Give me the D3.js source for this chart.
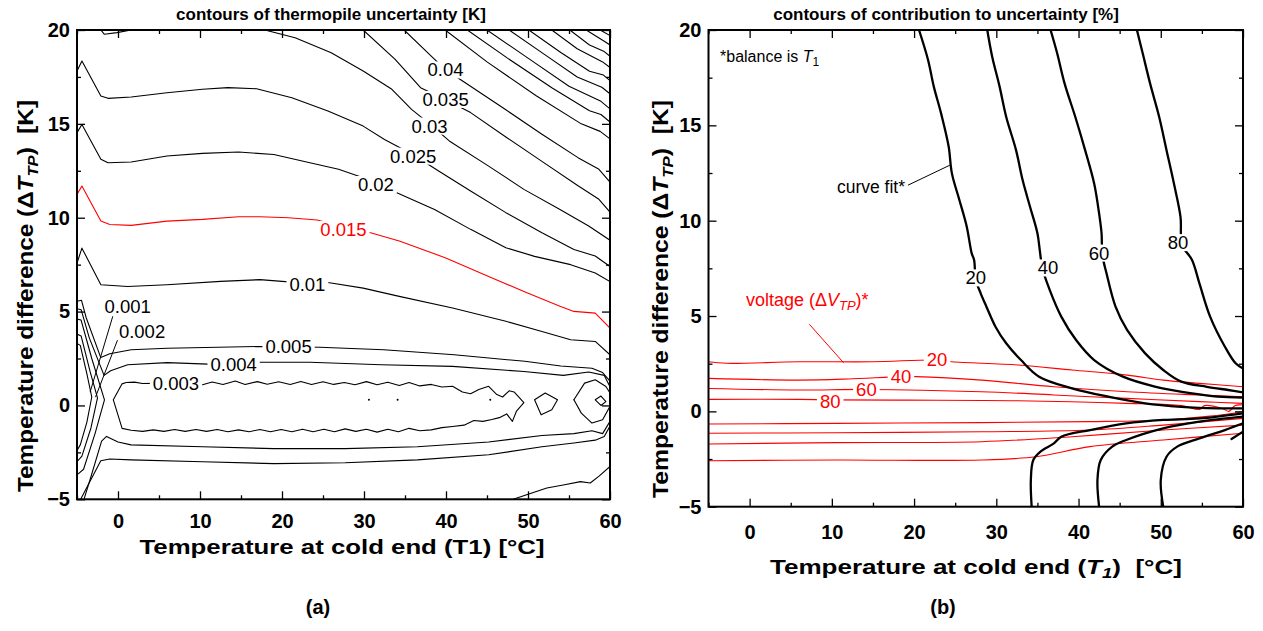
<!DOCTYPE html>
<html><head><meta charset="utf-8">
<script src="https://cdn.jsdelivr.net/npm/d3@7"></script>
<style>
body{margin:0;background:#fff}
svg{display:block}
text{font-family:"Liberation Sans",Arial,Helvetica,sans-serif}
</style>
</head><body>
<svg id="chart" width="1263" height="631"></svg>
<script>
// ---------------- data ----------------
const xDomain = [-5, 60];
const yDomain = [-5, 20];
const xMajorTicks = [0, 10, 20, 30, 40, 50, 60];
const xMinorTicks = [-5, 5, 15, 25, 35, 45, 55];
const yMajorTicks = [-5, 0, 5, 10, 15, 20];
const yMinorTicks = [-2.5, 2.5, 7.5, 12.5, 17.5];

// (a) thermopile uncertainty contours [K]; points are [T1 (°C), ΔT_TP (K)]
const uA0001 = [[-5,3.3],[-4.6,3.2],[-3.8,1.7],[-3.2,0.45],[-3.8,-0.9],[-4.6,-2.1],[-5,-2.4]];
const uA0002 = [[-5,3.8],[-4.5,3.7],[-3.4,1.8],[-2.5,0.4],[-3.3,-1.2],[-4.4,-2.7],[-5,-3.0]];
const uA0003v = [[-5,4.6],[-4.5,4.55],[-3.2,2.5],[-1.65,0.3],[-2.8,-1.5],[-4.2,-3.4],[-5,-3.7]];
const uA0003 = [[-0.57,0.3],[0.5,1.15],[1.0,1.22],[2.0,1.24],[3.0,1.17],[4.5,1.18],[6.0,1.14],[8.0,1.16],[10.3,1.1],[11.5,1.25],[12.8,1.12],[14.3,1.3],[15.5,1.12],[17.0,1.27],[18.2,1.13],[19.6,1.26],[21.0,1.12],[22.3,1.28],[23.6,1.12],[25.0,1.26],[26.3,1.12],[27.6,1.22],[28.9,1.1],[30.3,1.27],[31.6,1.1],[32.9,1.24],[34.3,1.06],[35.5,1.22],[36.8,1.04],[38.2,1.12],[39.5,0.98],[40.8,1.02],[42.0,0.72],[43.0,0.62],[44.0,0.85],[45.2,1.02],[46.2,0.58],[46.9,0.45],[47.7,0.78],[48.3,0.72],[49.5,0.15],[48.6,-0.3],[48.1,-0.85],[47.4,-0.45],[46.5,-0.65],[45.6,-0.75],[44.5,-0.85],[43.4,-0.8],[42.2,-1.05],[40.8,-1.12],[39.5,-1.18],[38.2,-1.3],[36.8,-1.35],[35.5,-1.22],[34.2,-1.4],[32.9,-1.27],[31.6,-1.42],[30.3,-1.27],[29.0,-1.38],[27.7,-1.25],[26.4,-1.4],[25.1,-1.27],[23.8,-1.4],[22.5,-1.27],[21.2,-1.4],[19.9,-1.28],[18.6,-1.4],[17.3,-1.28],[16.0,-1.4],[14.7,-1.3],[13.4,-1.4],[12.1,-1.28],[10.8,-1.38],[9.5,-1.28],[8.2,-1.38],[6.9,-1.28],[5.6,-1.38],[4.3,-1.3],[3.0,-1.38],[1.6,-1.32],[0.5,-1.22],[-0.57,0.3]];
const uA0003b = [[50.8,0.3],[52.1,0.66],[53.6,0.3],[52.9,-0.23],[51.6,-0.5],[50.8,0.3]];
const uA0003c = [[55.6,0.3],[56.9,1.19],[58.2,1.37],[59.5,1.01],[60,0.66]];
const uA0003d = [[60,-0.05],[59.1,-0.76],[57.8,-0.94],[56.5,-0.41],[55.6,0.3]];
const uA0003e = [[58.2,0.3],[58.9,0.5],[59.5,0.2],[58.9,0.0],[58.2,0.3]];
const uA0003dots = [[30.6,0.3],[34.1,0.3],[45.4,0.3]];
const uA0004 = [[-5,5.15],[-4.5,5.1],[-3.5,3.6],[-1.7,1.6],[-0.9,1.85],[1.18,2.17],[6,2.28],[11,2.2],[17.3,2.3],[23.4,2.3],[32.1,2.17],[40.8,2.08],[49.5,1.81],[54.3,1.6],[57.4,1.78],[59.3,1.6],[60,1.0]];
const uA0004low = [[-4.15,-5],[-3.3,-3.8],[-2.0,-1.9],[-1.4,-1.65],[0,-1.95],[1.6,-2.1],[10.3,-2.2],[19,-2.3],[27.7,-2.3],[36.5,-2.2],[45.2,-1.95],[51.7,-1.6],[55.6,-1.5],[57.8,-1.35],[59.1,-1.5],[60,-0.85]];
const uA0005 = [[-5,5.55],[-4.45,5.6],[-3.9,4.7],[-2.1,2.55],[-1.0,2.75],[1.6,2.97],[6,3.05],[17.3,3.14],[24.6,3.1],[32.4,2.97],[41,2.7],[49.6,2.35],[54,2.1],[57.8,1.98],[59.1,1.75],[60,1.3]];
const uA0005low = [[-4.55,-5],[-3.6,-4.2],[-2.1,-2.95],[-1.0,-2.85],[1.6,-2.9],[10.3,-3.0],[19,-3.1],[27.7,-3.05],[36.5,-2.9],[45.2,-2.63],[51.7,-2.2],[55.6,-2.0],[58.2,-1.85],[59.3,-1.65],[60,-1.1]];
const uA0010 = [[-5,7.58],[-4.4,8.38],[-2.09,6.43],[1.18,6.34],[5.97,6.43],[12.5,6.61],[17.3,6.7],[23.1,6.5],[25.6,6.55],[29.9,6.25],[34.3,5.81],[40.8,5.19],[47.3,4.48],[51.7,3.94],[55.2,3.5],[58.2,3.41],[60,2.7]];
const uA0010low = [[48.2,-5],[50.2,-4.7],[52.3,-4.4],[54.3,-4.24],[56.4,-4.06],[57.6,-4.13],[58.7,-3.75],[60,-3.25]];
const uA0015 = [[-5,11.24],[-4.4,11.69],[-2.09,9.82],[-1.0,9.64],[1.61,9.59],[5.97,9.82],[10.3,9.91],[14.7,10.05],[17.3,10.05],[20.8,10.0],[24.3,9.88],[27.5,9.5],[30.8,9.2],[34.3,8.76],[39.9,7.87],[45.2,6.87],[49.5,6.07],[53.9,5.28],[55.6,5.01],[58.2,4.92],[60,4.12]];
const uA0020 = [[-5,14.53],[-4.4,14.97],[-2.09,13.11],[-1.22,12.93],[1.61,12.97],[5.97,13.29],[10.3,13.43],[14.7,13.5],[19.0,13.37],[23.4,12.93],[26.9,12.58],[31.4,11.9],[33.8,11.37],[38.6,10.44],[43.0,9.38],[47.3,8.4],[50.8,7.94],[55.2,7.5],[58.2,7.05],[60,6.6]];
const uA0025 = [[-5,17.82],[-4.4,18.35],[-2.09,16.48],[-1.22,16.36],[1.61,16.43],[5.97,16.66],[10.3,16.84],[13.4,16.93],[16.9,16.87],[21.2,16.39],[25.6,15.68],[29.9,14.88],[32.5,14.17],[36.0,13.35],[39.1,12.49],[43.0,11.42],[47.3,10.27],[51.7,9.2],[55.6,8.31],[58.2,7.96],[60,7.4]];
const uA0030top = [[-2.09,20],[-1.66,19.77],[-0.13,19.86],[1.61,20]];
const uA0030 = [[17.9,20],[21.6,19.59],[26.0,18.79],[29.9,17.82],[33.4,16.84],[35.8,15.77],[38.0,15.0],[40.4,14.09],[45.2,12.75],[49.5,11.51],[53.9,10.44],[57.4,9.56],[60,8.8]];
const uA0035 = [[29.9,20],[33.8,18.44],[36.9,16.93],[39.9,16.3],[43,15.6],[47.3,14.3],[51.7,13.0],[56.1,11.7],[58.6,11.0],[60,10.3]];
const uA0040 = [[34.9,20],[38.2,18.61],[39.9,17.9],[42.3,17.2],[47.3,15.75],[51.7,14.45],[56.1,13.2],[58.6,12.6],[60,11.9]];
const uA0045 = [[39.9,20],[45,18.3],[51,16.5],[56.5,15.0],[58.8,14.6],[60,14.2]];
const uA0050 = [[42.6,20],[47.5,18.5],[53,16.9],[57.5,15.7],[58.9,15.5],[60,15.1]];
const uA0055 = [[45.0,20],[50,18.5],[55,17.0],[58.9,16.2],[60,15.8]];
const uA0060 = [[47.7,20],[52,18.7],[56,17.5],[59,16.95],[60,16.6]];
const uA0065 = [[50.1,20],[54,18.8],[57.5,17.8],[59.2,17.6],[60,17.3]];
const uA0070 = [[52.9,20],[56,19.0],[59.1,18.3],[60,18.0]];
const uA0075 = [[55.1,20],[57.5,19.2],[59.3,18.85],[60,18.6]];
const uA0080 = [[57.1,20],[59.3,19.4],[60,19.2]];
const uA0085 = [[58.8,20],[60,19.7]];

// labels on (a): [text, T1, ΔT]
const labelsA = [["0.04",39.95,17.87],["0.035",39.95,16.3],["0.03",38.0,14.88],["0.025",36.0,13.28],["0.02",31.45,11.77],["0.015",27.5,9.37],["0.01",23.1,6.42],["0.005",20.8,3.13],["0.004",14.1,2.16],["0.003",7.07,1.18],["0.001",1.18,5.26],["0.002",2.93,3.93]];
const leader0001 = [[-0.65,4.73],[-3.39,0.73]];
const leader0002 = [[0.1,3.66],[-2.73,0.46]];

// (b) contribution to uncertainty [%]: curve fit (black) and voltage (red)
const fit20 = [[20.6,20],[21.7,18.43],[22.4,17.03],[23.3,15.6],[24.2,13.9],[24.6,12.48],[25.5,11.1],[26.4,9.7],[27.0,8.3],[27.3,7.94],[27.5,6.92],[28.1,6.19],[28.8,5.49],[29.9,4.44],[31.2,3.57],[33.0,2.69],[35.2,1.82],[39.2,1.21],[43.6,0.77],[48.1,0.42],[52.5,0.24],[56.9,0.16],[60,0.16]];
const fit40 = [[28.9,20],[29.5,18.6],[30.4,17.03],[31.2,15.45],[32.4,13.7],[33.2,12.13],[34.1,10.73],[35.0,9.34],[35.3,8.4],[35.6,7.5],[36.5,6.36],[37.9,4.97],[39.7,3.74],[41.9,2.69],[45.4,1.82],[49.4,1.29],[53.8,0.94],[56.9,0.77],[60,0.72]];
const fit60 = [[36.6,20],[37.4,18.78],[38.3,17.2],[39.6,15.45],[40.8,13.7],[41.9,11.95],[42.5,10.38],[42.8,9.34],[42.9,8.2],[43.4,7.24],[44.5,5.49],[45.9,4.27],[48.1,3.04],[50.3,2.17],[52.5,1.56],[55.6,1.29],[58.2,1.12],[60,1.0]];
const fit80 = [[47.1,20],[47.8,18.78],[48.7,17.2],[49.8,15.45],[50.7,13.7],[51.6,11.95],[52.4,10.2],[52.6,8.72],[53.8,7.94],[54.7,6.71],[56.0,4.97],[57.8,3.39],[59.1,2.52],[60,2.25]];
const fit20low = [[34.3,-5],[34.2,-3.6],[34.5,-2.55],[35.4,-2.1],[37,-1.68],[37.9,-1.33],[41.4,-0.98],[45.8,-0.63],[50.3,-0.45],[54.7,-0.37],[60,-0.1]];
const fit40low = [[42.5,-5],[42.3,-3.6],[42.7,-2.55],[44.1,-1.85],[45.8,-1.5],[50.3,-0.89],[54.7,-0.54],[60,-0.28]];
const fit60low = [[50.3,-5],[50.0,-3.6],[50.7,-2.38],[52.0,-1.85],[54.7,-1.42],[57.8,-0.98],[60,-0.63]];
const fit80low = [[58.6,-1.45],[60,-1.07]];

const volt20 = [[-5,2.6],[-2.8,2.52],[6.0,2.6],[14.9,2.6],[22.8,2.69],[24.6,2.6],[32.6,2.43],[39.2,2.17],[45.9,1.9],[50.3,1.64],[54.7,1.47],[60,1.29]];
const volt40 = [[-5,1.73],[6.0,1.64],[12,1.7],[18.4,1.82],[20.2,1.82],[28.2,1.64],[37.0,1.29],[45.9,1.03],[54.7,0.86],[60,0.77]];
const volt60 = [[-5,1.2],[6,1.12],[14.2,1.15],[28.2,1.03],[37,0.86],[45.9,0.68],[54.7,0.51],[60,0.42]];
const volt80 = [[-5,0.63],[6,0.63],[9.8,0.6],[19.3,0.59],[32.6,0.56],[45.9,0.42],[52.5,0.3],[54.7,0.1],[55.3,0.3],[57.5,0.15],[58.3,0.0],[59,0.3],[60,0.33]];
const volt80low = [[-5,-0.66],[10.5,-0.63],[28.2,-0.59],[41.4,-0.54],[50.3,-0.45],[56,-0.25],[60,-0.02]];
const volt60low = [[-5,-1.15],[10.5,-1.12],[28.2,-1.07],[41.4,-0.98],[50.3,-0.72],[60,-0.37]];
const volt40low = [[-5,-1.71],[10.5,-1.64],[28.2,-1.59],[39.2,-1.33],[50.3,-0.98],[60,-0.72]];
const volt20low = [[-5,-2.59],[10.5,-2.55],[28.2,-2.55],[34.8,-2.38],[41.4,-1.85],[50.3,-1.5],[60,-1.15]];

const labelsFit = [["20",27.5,7.0],["40",36.3,7.52],["60",42.5,8.3],["80",52.1,8.85]];
const labelsVolt = [["20",22.8,2.7],["40",18.4,1.82],["60",14.2,1.15],["80",9.8,0.5]];
const leaderFit = [[19.3,11.87],[24.3,12.9]];
const leaderVolt = [[7.3,4.55],[11.4,2.56]];

// ---------------- drawing ----------------
const svg = d3.select("#chart");
const boxA = {x0: 77, x1: 610, y0: 30, y1: 499.3};
const boxB = {x0: 708.5, x1: 1243, y0: 30, y1: 506.7};

function makePanel(box) {
  const x = d3.scaleLinear().domain(xDomain).range([box.x0, box.x1]);
  const y = d3.scaleLinear().domain(yDomain).range([box.y1, box.y0]);
  const g = svg.append("g");
  const clipId = "clip" + Math.round(box.x0);
  svg.append("defs").append("clipPath").attr("id", clipId)
    .append("rect").attr("x", box.x0).attr("y", box.y0)
    .attr("width", box.x1 - box.x0).attr("height", box.y1 - box.y0);
  const plot = g.append("g").attr("clip-path", `url(#${clipId})`);
  return {x, y, g, plot, box};
}

function drawAxes(p, labelPad) {
  const {x, y, g, box} = p;
  const fmt = d3.format("d");
  const tickStyle = sel => sel.select(".domain").remove();
  g.append("g").attr("transform", `translate(0,${box.y1})`)
    .call(d3.axisBottom(x).tickValues(xMajorTicks).tickSizeInner(-8).tickSizeOuter(0).tickPadding(labelPad).tickFormat(fmt))
    .call(tickStyle)
    .call(s => s.selectAll("text").attr("font-size", 20).attr("font-weight", "bold").attr("fill", "#000"));
  g.append("g").attr("transform", `translate(0,${box.y1})`)
    .call(d3.axisBottom(x).tickValues(xMinorTicks).tickSizeInner(-4).tickSizeOuter(0).tickFormat(""))
    .call(tickStyle);
  g.append("g").attr("transform", `translate(0,${box.y0})`)
    .call(d3.axisTop(x).tickValues(xMajorTicks).tickSizeInner(-8).tickSizeOuter(0).tickFormat(""))
    .call(tickStyle);
  g.append("g").attr("transform", `translate(0,${box.y0})`)
    .call(d3.axisTop(x).tickValues(xMinorTicks).tickSizeInner(-4).tickSizeOuter(0).tickFormat(""))
    .call(tickStyle);
  g.append("g").attr("transform", `translate(${box.x0},0)`)
    .call(d3.axisLeft(y).tickValues(yMajorTicks).tickSizeInner(-8).tickSizeOuter(0).tickPadding(7).tickFormat(fmt))
    .call(tickStyle)
    .call(s => s.selectAll("text").attr("font-size", 20).attr("font-weight", "bold").attr("fill", "#000"));
  g.append("g").attr("transform", `translate(${box.x0},0)`)
    .call(d3.axisLeft(y).tickValues(yMinorTicks).tickSizeInner(-4).tickSizeOuter(0).tickFormat(""))
    .call(tickStyle);
  g.append("g").attr("transform", `translate(${box.x1},0)`)
    .call(d3.axisRight(y).tickValues(yMajorTicks).tickSizeInner(-8).tickSizeOuter(0).tickFormat(""))
    .call(tickStyle);
  g.append("g").attr("transform", `translate(${box.x1},0)`)
    .call(d3.axisRight(y).tickValues(yMinorTicks).tickSizeInner(-4).tickSizeOuter(0).tickFormat(""))
    .call(tickStyle);
  g.selectAll(".tick line").attr("stroke", "#000").attr("stroke-width", 1.3);
  g.append("rect").attr("x", box.x0).attr("y", box.y0)
    .attr("width", box.x1 - box.x0).attr("height", box.y1 - box.y0)
    .attr("fill", "none").attr("stroke", "#000").attr("stroke-width", 2);
}

function drawLine(p, pts, color, width, smooth) {
  const line = d3.line().x(d => p.x(d[0])).y(d => p.y(d[1]))
    .curve(smooth ? d3.curveCatmullRom.alpha(0.5) : d3.curveLinear);
  p.plot.append("path").datum(pts).attr("d", line)
    .attr("fill", "none").attr("stroke", color).attr("stroke-width", width)
    .attr("stroke-linejoin", "round").attr("stroke-linecap", "round");
}

function drawLabel(p, txt, tx, ty, color, size, padX) {
  const gl = p.g.append("g");
  const t = gl.append("text").attr("x", p.x(tx)).attr("y", p.y(ty))
    .attr("text-anchor", "middle").attr("dominant-baseline", "central")
    .attr("font-size", size).attr("fill", color).text(txt);
  const bb = t.node().getBBox();
  gl.insert("rect", "text").attr("x", bb.x - padX).attr("y", bb.y + 2)
    .attr("width", bb.width + 2 * padX).attr("height", bb.height - 4).attr("fill", "#fff");
}

// ----- panel (a) -----
const pA = makePanel(boxA);
const blackA = [uA0001,uA0002,uA0003v,uA0003,uA0003b,uA0003c,uA0003d,uA0003e,uA0004,uA0004low,uA0005,uA0005low,
  uA0010,uA0010low,uA0020,uA0025,uA0030top,uA0030,uA0035,uA0040,uA0045,uA0050,uA0055,uA0060,uA0065,uA0070,uA0075,uA0080,uA0085];
blackA.forEach(l => drawLine(pA, l, "#000", 1.1, false));
drawLine(pA, uA0015, "#ff0000", 1.1, false);
pA.plot.selectAll("circle.dot").data(uA0003dots).join("circle")
  .attr("cx", d => pA.x(d[0])).attr("cy", d => pA.y(d[1])).attr("r", 1).attr("fill", "#000");
labelsA.forEach(([t, lx, ly]) => drawLabel(pA, t, lx, ly, t === "0.015" ? "#ff0000" : "#000", 18.5, 3));
drawLine(pA, leader0001, "#000", 1, false);
drawLine(pA, leader0002, "#000", 1, false);
drawAxes(pA, 15);

// ----- panel (b) -----
const pB = makePanel(boxB);
[volt20, volt40, volt60, volt80, volt80low, volt60low, volt40low, volt20low]
  .forEach(l => drawLine(pB, l, "#ff0000", 1.1, true));
labelsVolt.forEach(([t, lx, ly]) => drawLabel(pB, t, lx, ly, "#ff0000", 18.5, 3));
[fit20, fit40, fit60, fit80, fit20low, fit40low, fit60low, fit80low]
  .forEach(l => drawLine(pB, l, "#000", 2.3, true));
labelsFit.forEach(([t, lx, ly]) => drawLabel(pB, t, lx, ly, "#000", 18.5, 2));
drawLine(pB, leaderFit, "#000", 1, false);
drawLine(pB, leaderVolt, "#ff0000", 1, false);
drawAxes(pB, 18);

// annotations inside (b)
const ann = pB.g.append("text").attr("x", pB.x(-3.6)).attr("y", pB.y(18.3)).attr("font-size", 16);
ann.append("tspan").text("*balance is ");
ann.append("tspan").attr("font-style", "italic").text("T");
ann.append("tspan").attr("font-size", 12).attr("dy", 4).text("1");
pB.g.append("text").attr("x", pB.x(18.9)).attr("y", pB.y(11.45)).attr("text-anchor", "end")
  .attr("font-size", 17.5).text("curve fit*");
const vt = pB.g.append("text").attr("x", pB.x(-0.45)).attr("y", pB.y(5.5)).attr("font-size", 18).attr("fill", "#ff0000");
vt.append("tspan").text("voltage (\u0394");
vt.append("tspan").attr("font-style", "italic").text("V");
vt.append("tspan").attr("font-style", "italic").attr("font-size", 13).attr("dy", 4).text("TP");
vt.append("tspan").attr("dy", -4).text(")*");

// titles
svg.append("text").attr("x", 331).attr("y", 20).attr("text-anchor", "middle")
  .attr("font-size", 17).attr("font-weight", "bold").text("contours of thermopile uncertainty [K]");
svg.append("text").attr("x", 946).attr("y", 20).attr("text-anchor", "middle")
  .attr("font-size", 17).attr("font-weight", "bold").text("contours of contribution to uncertainty [%]");

// x-axis titles
svg.append("text").attr("x", 342).attr("y", 554).attr("text-anchor", "middle")
  .attr("font-size", 21).attr("font-weight", "bold")
  .attr("textLength", 405).attr("lengthAdjust", "spacingAndGlyphs")
  .text("Temperature at cold end (T1) [°C]");
const xtB = svg.append("text").attr("x", 976).attr("y", 574).attr("text-anchor", "middle")
  .attr("font-size", 21).attr("font-weight", "bold")
  .attr("textLength", 412).attr("lengthAdjust", "spacingAndGlyphs");
xtB.append("tspan").text("Temperature at cold end (");
xtB.append("tspan").attr("font-style", "italic").text("T");
xtB.append("tspan").attr("font-style", "italic").attr("font-size", 15).attr("dy", 4).text("1");
xtB.append("tspan").attr("dy", -4).text(")\u00a0\u00a0[°C]");

// y-axis titles
function yTitle(xPos, yStart, len) {
  const t = svg.append("text").attr("transform", `translate(${xPos},${yStart}) rotate(-90)`)
    .attr("font-size", 22).attr("font-weight", "bold")
    .attr("textLength", len).attr("lengthAdjust", "spacingAndGlyphs");
  t.append("tspan").text("Temperature difference (\u0394");
  t.append("tspan").attr("font-style", "italic").text("T");
  t.append("tspan").attr("font-style", "italic").attr("font-size", 15).attr("dy", 5).text("TP");
  t.append("tspan").attr("dy", -5).text(")\u00a0\u00a0[K]");
}
yTitle(33, 492, 392);
yTitle(668, 498, 398);

// panel letters
svg.append("text").attr("x", 318).attr("y", 614).attr("text-anchor", "middle")
  .attr("font-family", "'Liberation Serif','Times New Roman',serif").attr("font-size", 20)
  .attr("font-weight", "bold").text("(a)");
svg.append("text").attr("x", 943).attr("y", 614).attr("text-anchor", "middle")
  .attr("font-family", "'Liberation Serif','Times New Roman',serif").attr("font-size", 20)
  .attr("font-weight", "bold").text("(b)");
</script>
</body></html>
